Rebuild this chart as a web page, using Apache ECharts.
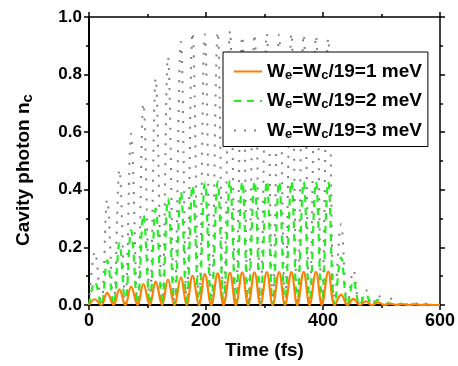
<!DOCTYPE html>
<html>
<head>
<meta charset="utf-8">
<script src="https://cdn.jsdelivr.net/npm/echarts@6/dist/echarts.min.js"></script>
<style>
  html, body { margin: 0; padding: 0; background: #fff; }
  #chart { width: 458px; height: 366px; }
</style>
</head>
<body>
<div id="chart"></div>
<script>
// times (fs) of the minima and maxima
const troughTimes = [0, 21, 42, 62, 83, 104, 125, 146, 167, 188, 209, 230, 251, 272, 293, 314, 335, 356, 377, 398, 420, 442, 463, 484, 505, 526, 547, 568, 589, 600]
const peakTimes = [10, 31, 52, 72, 93, 114, 135, 157, 177, 198, 220, 241, 262, 283, 304, 325, 346, 367, 388, 409, 431, 452, 473, 494, 515, 536, 557, 578]
const troughValue = 0

// peak heights of n_c for each coupling
const peaks1meV = [0.020, 0.042, 0.054, 0.064, 0.073, 0.081, 0.088, 0.096, 0.101, 0.107, 0.110, 0.112, 0.113, 0.113, 0.114, 0.114, 0.114, 0.115, 0.115, 0.116, 0.036, 0.021, 0.013, 0.009, 0.005, 0.003, 0.002, 0.001]
const peaks2meV = [0.080, 0.155, 0.215, 0.260, 0.315, 0.335, 0.370, 0.392, 0.415, 0.425, 0.428, 0.432, 0.428, 0.430, 0.430, 0.428, 0.430, 0.428, 0.428, 0.428, 0.165, 0.085, 0.038, 0.018, 0.010, 0.006, 0.004, 0.003]
const peaks3meV = [0.185, 0.365, 0.470, 0.595, 0.700, 0.787, 0.862, 0.914, 0.947, 0.940, 0.949, 0.952, 0.934, 0.941, 0.943, 0.940, 0.943, 0.940, 0.935, 0.926, 0.280, 0.120, 0.052, 0.035, 0.023, 0.010, 0.006, 0.005]

const seriesNames = ["W_e=W_c/19=1 meV", "W_e=W_c/19=2 meV", "W_e=W_c/19=3 meV"]
const xTicks = [0, 200, 400, 600]
const yTicks = [0.0, 0.2, 0.4, 0.6, 0.8, 1.0]

const FONT = "Liberation Sans, Arial, sans-serif"

const buildCurve = peaks => {
  const pts = []
  troughTimes.forEach((t, i) => {
    pts.push([t, troughValue])
    if (i < peaks.length) pts.push([peakTimes[i], peaks[i]])
  })
  return pts
}

const chart = echarts.init(document.getElementById("chart"))

const axisCommon = {
  axisLine: { show: true, onZero: false, lineStyle: { color: "#000", width: 2 } },
  axisTick: { show: true, inside: false, length: 5, lineStyle: { color: "#000", width: 1.5 } },
  minorTick: { show: true, splitNumber: 2, length: 3, lineStyle: { color: "#000", width: 1.5 } },
  splitLine: { show: false },
  minorSplitLine: { show: false }
}

chart.setOption({
  animation: false,
  backgroundColor: "#fff",
  grid: { left: 89, right: 16, top: 17, bottom: 61 },
  legend: {
    data: seriesNames,
    orient: "vertical",
    left: 223,
    top: 52,
    padding: [10, 6, 6, 10],
    itemGap: 10,
    itemWidth: 28,
    itemHeight: 14,
    borderColor: "#000",
    borderWidth: 1,
    borderRadius: 0,
    backgroundColor: "#fff",
    itemStyle: { opacity: 0 },
    formatter: name => {
      const v = name.split("=")[2]
      return "{w|W}{s|e}{w|=W}{s|c}{w|/19=" + v + "}"
    },
    textStyle: {
      rich: {
        w: { fontFamily: FONT, fontWeight: "bold", fontSize: 19, color: "#000", lineHeight: 20 },
        s: { fontFamily: FONT, fontWeight: "bold", fontSize: 13, color: "#000", lineHeight: 13, verticalAlign: "bottom" }
      }
    }
  },
  xAxis: [
    {
      type: "value", min: 0, max: 600, interval: 200,
      ...axisCommon,
      axisLabel: { color: "#000", fontFamily: FONT, fontWeight: "bold", fontSize: 18, margin: 7,
        formatter: v => (xTicks.includes(v) ? String(v) : "") },
      name: "Time (fs)",
      nameLocation: "middle",
      nameGap: 36,
      nameTextStyle: { color: "#000", fontFamily: FONT, fontWeight: "bold", fontSize: 19 }
    },
    {
      type: "value", min: 0, max: 600, interval: 200, position: "top",
      ...axisCommon,
      axisLine: { show: true, onZero: false, lineStyle: { color: "#000", width: 1.5 } },
      axisLabel: { show: false }
    }
  ],
  yAxis: [
    {
      type: "value", min: 0, max: 1, interval: 0.2,
      ...axisCommon,
      axisLabel: { color: "#000", fontFamily: FONT, fontWeight: "bold", fontSize: 17, margin: 7,
        formatter: v => yTicks.some(t => Math.abs(t - v) < 1e-6) ? v.toFixed(1) : "" },
      name: "{m|Cavity photon n}{s|c}",
      nameLocation: "middle",
      nameGap: 54,
      nameTextStyle: {
        padding: [0, 18, 0, 0],
        rich: {
          m: { color: "#000", fontFamily: FONT, fontWeight: "bold", fontSize: 19, lineHeight: 22 },
          s: { color: "#000", fontFamily: FONT, fontWeight: "bold", fontSize: 15, lineHeight: 16, verticalAlign: "bottom" }
        }
      }
    },
    {
      type: "value", min: 0, max: 1, interval: 0.2, position: "right",
      ...axisCommon,
      axisLine: { show: true, onZero: false, lineStyle: { color: "#000", width: 1.5 } },
      axisLabel: { show: false }
    }
  ],
  series: [
    {
      name: seriesNames[2], type: "line", data: buildCurve(peaks3meV),
      smooth: 0.4, symbol: "none", color: "#808080",
      lineStyle: { color: "#808080", width: 2, type: [2, 8] }
    },
    {
      name: seriesNames[1], type: "line", data: buildCurve(peaks2meV),
      smooth: 0.4, symbol: "none", color: "#22ee22",
      lineStyle: { color: "#22ee22", width: 2.2, type: [7, 6] }
    },
    {
      name: seriesNames[0], type: "line", data: buildCurve(peaks1meV),
      smooth: 0.4, symbol: "none", color: "#ff7f00",
      lineStyle: { color: "#ff7f00", width: 2.2 }
    }
  ]
})

window.addEventListener("resize", () => chart.resize())
</script>
</body>
</html>
